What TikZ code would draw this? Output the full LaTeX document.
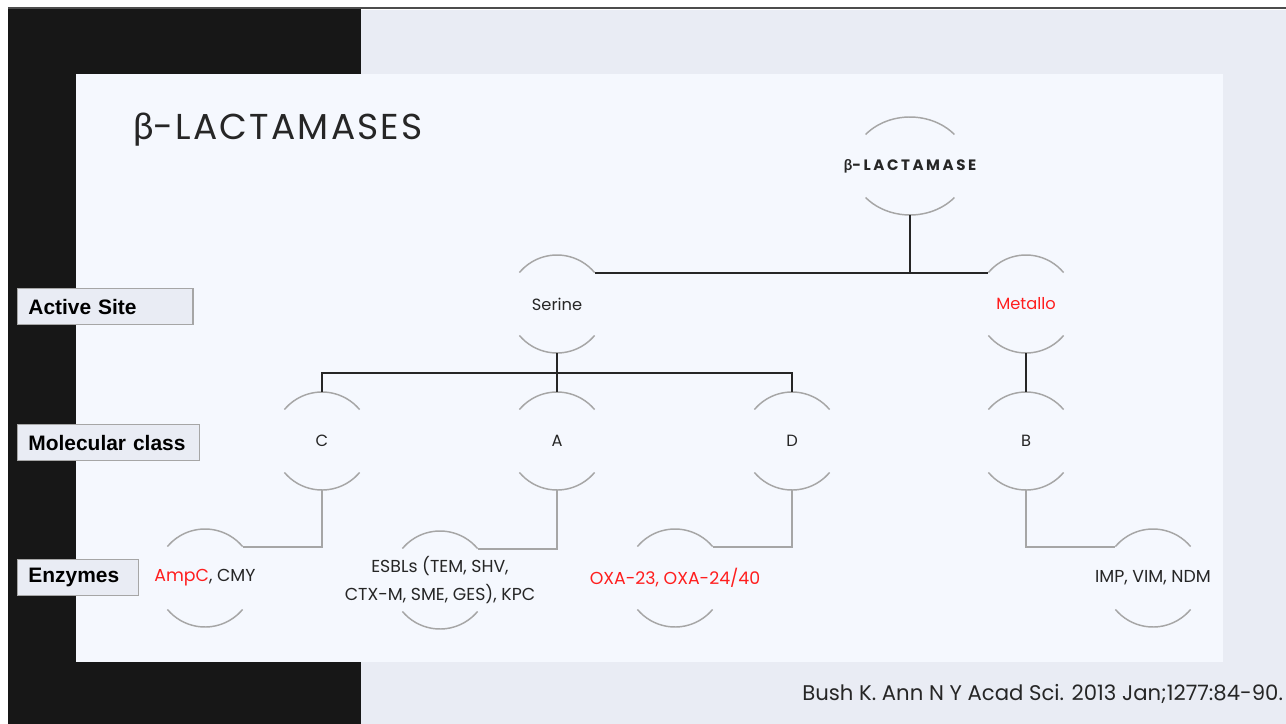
\documentclass[tikz,border=0pt]{standalone}
\usepackage{fontspec}
\setmainfont{Poppins}
\newfontfamily\grkfont{Lato}
\newfontfamily\tagfont{Liberation Sans}
\newfontfamily\spacedfont{Poppins}[LetterSpace=17]
\newfontfamily\titlefont{Poppins}[LetterSpace=6]
\usepackage{xcolor}
\usepackage{tikz}
\usetikzlibrary{calc}

\definecolor{slideblack}{RGB}{23,23,23}
\definecolor{slidegray}{RGB}{233,236,244}
\definecolor{panelblue}{RGB}{245,248,254}
\definecolor{rimgray}{RGB}{166,166,166}
\definecolor{linkdark}{RGB}{38,38,38}
\definecolor{hotred}{RGB}{255,30,30}

\tikzset{
  hub/.style={inner sep=0pt, align=center, font=\fontsize{12.2}{20}\selectfont, text=linkdark},
  enzhub/.style={hub, font=\fontsize{13}{20.5}\selectfont},
  rim/.style={draw=rimgray, line width=1.1pt},
  link/.style={draw=linkdark, line width=1.5pt},
  lowlink/.style={draw=rimgray, line width=1.5pt},
  sidetag/.style={draw=rimgray, fill=slidegray, line width=1.1pt, anchor=north west,
    minimum height=27pt, inner xsep=8pt, inner ysep=0pt, align=left,
    font=\tagfont\bfseries\fontsize{15.7}{18}\selectfont},
}

% arcs round a hub, with named ends
\newcommand{\rims}[3]{%
  \draw[rim] (#1.center) ++(220:#2 and #3) coordinate (#1-nw)
    arc[start angle=220, end angle=320, x radius=#2, y radius=#3] coordinate (#1-ne);
  \draw[rim] (#1.center) ++(40:#2 and #3) coordinate (#1-se)
    arc[start angle=40, end angle=140, x radius=#2, y radius=#3] coordinate (#1-sw);
  \coordinate (#1-n) at ($(#1.center)+(270:#2 and #3)$);
  \coordinate (#1-s) at ($(#1.center)+(90:#2 and #3)$);}

\begin{document}
\begin{tikzpicture}[x=0.75pt,y=0.75pt,yscale=-1,xscale=1]
      \useasboundingbox (0,0) rectangle (1286,724);
      \fill[white] (0,0) rectangle (1286,724);
      \fill[slideblack] (8,8) rectangle (361,724);
      \fill[slidegray] (361,10) rectangle (1286,724);
      \draw[black!70, line width=1.5pt] (8,8.5) -- (1286,8.5);
      \fill[panelblue] (76,74) rectangle (1223,662);

      \node[anchor=base west, inner sep=0pt, text=linkdark, font=\titlefont\fontsize{27}{30}\selectfont] (title) at (133,140) {{\grkfont\fontsize{27.5}{30}\selectfont β}-LACTAMASES};

      \node[sidetag, text width=115.5pt] (siteTag) at (17,288) {Active Site};
      \node[sidetag, text width=120.5pt] (classTag) at (17,424) {Molecular class};
      \node[sidetag, text width=74.5pt] (enzTag) at (17,559) {Enzymes};

      \node[hub, font=\spacedfont\bfseries\fontsize{11.3}{14}\selectfont] (lact) at (910,166) {{\grkfont\bfseries β}-LACTAMASE};
      \node[hub] (serine) at (557,304) {Serine};
      \node[hub, text=hotred] (metallo) at (1026,304) {Metallo};
      \node[hub] (classc) at (322,441) {C};
      \node[hub] (classa) at (557,441) {A};
      \node[hub] (classd) at (792,441) {D};
      \node[hub] (classb) at (1026,441) {B};
      \node[enzhub] (ampc) at (205,578) {\textcolor{hotred}{AmpC}, CMY};
      \node[enzhub] (esbl) at (440,580) {ESBLs (TEM, SHV,\\CTX-M, SME, GES), KPC};
      \node[enzhub, text=hotred] (oxa) at (675,578) {OXA-23, OXA-24/40};
      \node[enzhub] (imp) at (1153,578) {IMP, VIM, NDM};

      \rims{lact}{58}{49}
      \rims{serine}{49}{49}
      \rims{metallo}{49}{49}
      \rims{classc}{49}{49}
      \rims{classa}{49}{49}
      \rims{classd}{49}{49}
      \rims{classb}{49}{49}
      \rims{ampc}{49}{49}
      \rims{esbl}{49}{49}
      \rims{oxa}{49}{49}
      \rims{imp}{49}{49}

      \draw[link] (lact-s) -- (lact-s |- serine-ne);
      \draw[link] (serine-ne) -- (metallo-nw);
      \draw[link] (serine-s) -- (classa-n);
      \draw[link] (classc-n) -- ++(0,-19.5) -| (classd-n);
      \draw[link] (metallo-s) -- (classb-n);
      \draw[lowlink] (classc-s) |- (ampc-ne);
      \draw[lowlink] (classa-s) |- (esbl-ne);
      \draw[lowlink] (classd-s) |- (oxa-ne);
      \draw[lowlink] (classb-s) |- (imp-nw);

      \node[anchor=base west, inner sep=0pt, text=linkdark, font=\fontsize{15.9}{18}\selectfont] (cite) at (802,700) {Bush K. Ann N Y Acad Sci. 2013 Jan;1277:84-90.};
\end{tikzpicture}
\end{document}
